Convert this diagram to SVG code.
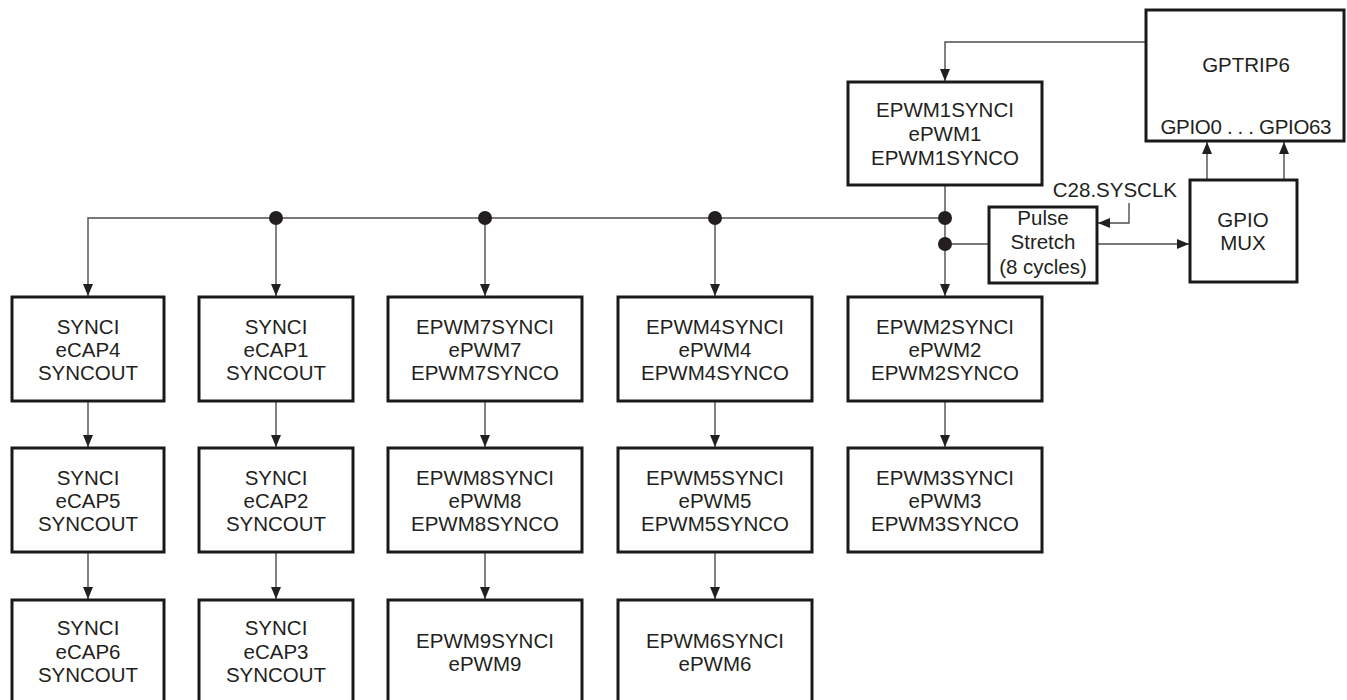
<svg xmlns="http://www.w3.org/2000/svg" width="1347" height="700" viewBox="0 0 1347 700">
<defs>
<style>
.box{fill:#fff;stroke:#1a1a1a;stroke-width:3}
.t{font-family:"Liberation Sans",Arial,sans-serif;font-size:20.5px;fill:#231f20;text-anchor:middle}
.c{fill:none;stroke:#4d4d4d;stroke-width:1.4}
.dot{fill:#231f20}
</style>
<marker id="ah" viewBox="0 0 12 10" refX="12" refY="5" markerWidth="12" markerHeight="10" markerUnits="userSpaceOnUse" orient="auto">
<path d="M0,0 L12,5 L0,10 Z" fill="#231f20"/>
</marker>
</defs>
<rect width="1347" height="700" fill="#fff"/>

<g id="connectors">
<path class="c" d="M1146,42 H945 V81" marker-end="url(#ah)"/>
<path class="c" d="M945,185 V296" marker-end="url(#ah)"/>
<path class="c" d="M945,218 H88 V296" marker-end="url(#ah)"/>
<path class="c" d="M276,218 V296" marker-end="url(#ah)"/>
<path class="c" d="M485,218 V296" marker-end="url(#ah)"/>
<path class="c" d="M715,218 V296" marker-end="url(#ah)"/>
<path class="c" d="M945,244 H989"/>
<path class="c" d="M1097,244 H1189" marker-end="url(#ah)"/>
<path class="c" d="M1129,203 V223 H1098" marker-end="url(#ah)"/>
<path class="c" d="M1207,180 V142" marker-end="url(#ah)"/>
<path class="c" d="M1284,180 V142" marker-end="url(#ah)"/>
<path class="c" d="M88,401 V447" marker-end="url(#ah)"/>
<path class="c" d="M276,401 V447" marker-end="url(#ah)"/>
<path class="c" d="M485,401 V447" marker-end="url(#ah)"/>
<path class="c" d="M715,401 V447" marker-end="url(#ah)"/>
<path class="c" d="M945,401 V447" marker-end="url(#ah)"/>
<path class="c" d="M88,552 V599" marker-end="url(#ah)"/>
<path class="c" d="M276,552 V599" marker-end="url(#ah)"/>
<path class="c" d="M485,552 V599" marker-end="url(#ah)"/>
<path class="c" d="M715,552 V599" marker-end="url(#ah)"/>
<circle class="dot" cx="276" cy="218" r="7"/>
<circle class="dot" cx="485" cy="218" r="7"/>
<circle class="dot" cx="715" cy="218" r="7"/>
<circle class="dot" cx="945" cy="218" r="7"/>
<circle class="dot" cx="945" cy="244" r="7"/>
<text class="t" x="1177" y="197" style="text-anchor:end">C28.SYSCLK</text>
</g>

<g id="gptrip6">
<rect class="box" x="1146" y="10" width="198" height="131"/>
<text class="t" x="1246" y="72">GPTRIP6</text>
<text class="t" x="1246" y="134" textLength="171" lengthAdjust="spacing">GPIO0 . . . GPIO63</text>
</g>

<g id="epwm1">
<rect class="box" x="848" y="82" width="194" height="103"/>
<text class="t" x="945" y="117">EPWM1SYNCI</text>
<text class="t" x="945" y="141">ePWM1</text>
<text class="t" x="945" y="165">EPWM1SYNCO</text>
</g>

<g id="pulse">
<rect class="box" x="989" y="207" width="108" height="76"/>
<text class="t" x="1043" y="225">Pulse</text>
<text class="t" x="1043" y="249">Stretch</text>
<text class="t" x="1043" y="274">(8 cycles)</text>
</g>

<g id="gpiomux">
<rect class="box" x="1190" y="180" width="107" height="102"/>
<text class="t" x="1243" y="227">GPIO</text>
<text class="t" x="1243" y="250">MUX</text>
</g>

<g id="ecap4">
<rect class="box" x="12" y="297" width="152" height="104"/>
<text class="t" x="88" y="334">SYNCI</text><text class="t" x="88" y="357">eCAP4</text><text class="t" x="88" y="380">SYNCOUT</text>
</g>
<g id="ecap1">
<rect class="box" x="199" y="297" width="154" height="104"/>
<text class="t" x="276" y="334">SYNCI</text><text class="t" x="276" y="357">eCAP1</text><text class="t" x="276" y="380">SYNCOUT</text>
</g>
<g id="epwm7">
<rect class="box" x="388" y="297" width="194" height="104"/>
<text class="t" x="485" y="334">EPWM7SYNCI</text><text class="t" x="485" y="357">ePWM7</text><text class="t" x="485" y="380">EPWM7SYNCO</text>
</g>
<g id="epwm4">
<rect class="box" x="618" y="297" width="194" height="104"/>
<text class="t" x="715" y="334">EPWM4SYNCI</text><text class="t" x="715" y="357">ePWM4</text><text class="t" x="715" y="380">EPWM4SYNCO</text>
</g>
<g id="epwm2">
<rect class="box" x="848" y="297" width="194" height="104"/>
<text class="t" x="945" y="334">EPWM2SYNCI</text><text class="t" x="945" y="357">ePWM2</text><text class="t" x="945" y="380">EPWM2SYNCO</text>
</g>

<g id="ecap5">
<rect class="box" x="12" y="448" width="152" height="104"/>
<text class="t" x="88" y="485">SYNCI</text><text class="t" x="88" y="508">eCAP5</text><text class="t" x="88" y="531">SYNCOUT</text>
</g>
<g id="ecap2">
<rect class="box" x="199" y="448" width="154" height="104"/>
<text class="t" x="276" y="485">SYNCI</text><text class="t" x="276" y="508">eCAP2</text><text class="t" x="276" y="531">SYNCOUT</text>
</g>
<g id="epwm8">
<rect class="box" x="388" y="448" width="194" height="104"/>
<text class="t" x="485" y="485">EPWM8SYNCI</text><text class="t" x="485" y="508">ePWM8</text><text class="t" x="485" y="531">EPWM8SYNCO</text>
</g>
<g id="epwm5">
<rect class="box" x="618" y="448" width="194" height="104"/>
<text class="t" x="715" y="485">EPWM5SYNCI</text><text class="t" x="715" y="508">ePWM5</text><text class="t" x="715" y="531">EPWM5SYNCO</text>
</g>
<g id="epwm3">
<rect class="box" x="848" y="448" width="194" height="104"/>
<text class="t" x="945" y="485">EPWM3SYNCI</text><text class="t" x="945" y="508">ePWM3</text><text class="t" x="945" y="531">EPWM3SYNCO</text>
</g>

<g id="ecap6">
<rect class="box" x="12" y="600" width="152" height="110"/>
<text class="t" x="88" y="635">SYNCI</text><text class="t" x="88" y="659">eCAP6</text><text class="t" x="88" y="682">SYNCOUT</text>
</g>
<g id="ecap3">
<rect class="box" x="199" y="600" width="154" height="110"/>
<text class="t" x="276" y="635">SYNCI</text><text class="t" x="276" y="659">eCAP3</text><text class="t" x="276" y="682">SYNCOUT</text>
</g>
<g id="epwm9">
<rect class="box" x="388" y="600" width="194" height="110"/>
<text class="t" x="485" y="648">EPWM9SYNCI</text><text class="t" x="485" y="671">ePWM9</text>
</g>
<g id="epwm6">
<rect class="box" x="618" y="600" width="194" height="110"/>
<text class="t" x="715" y="648">EPWM6SYNCI</text><text class="t" x="715" y="671">ePWM6</text>
</g>
</svg>
